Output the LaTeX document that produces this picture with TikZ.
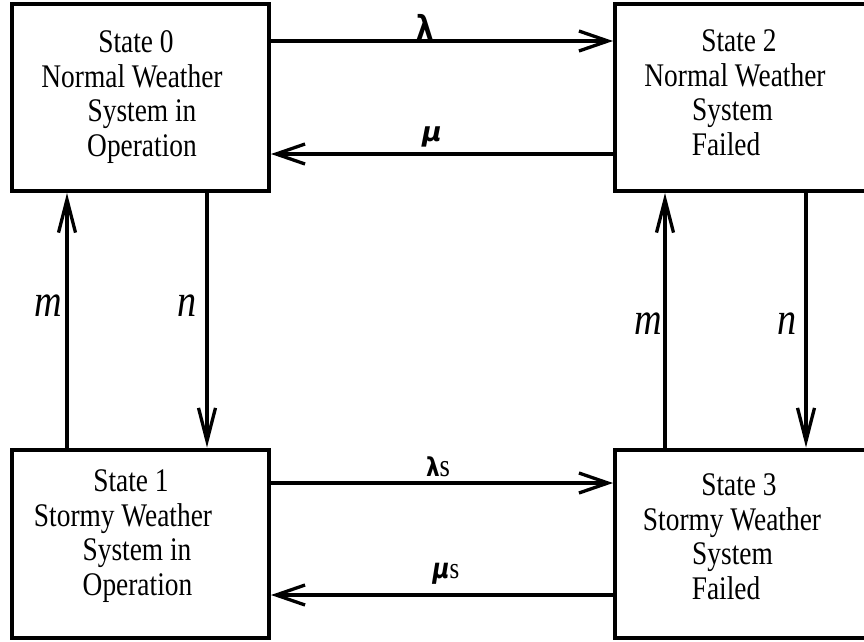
\documentclass[tikz,border=0pt]{standalone}
\usepackage{fontspec}
\setmainfont{Liberation Serif}[FakeStretch=0.83]
\newfontfamily\grk{DejaVu Sans}[FakeStretch=0.83]
\newfontfamily\grkw{DejaVu Sans}
\usetikzlibrary{arrows.meta}
\newcommand\padL[1]{\hbox to #1pt{}}
\newcommand\padR[1]{\hbox to #1pt{}}
\tikzset{
  statebox/.style={draw, line width=4pt, rectangle, inner sep=0pt, minimum width=257pt},
  statetext/.style={anchor=north, inner sep=0pt, align=center, font=\fontsize{33}{34.5}\selectfont},
  harr/.style={line width=3.3pt, -{Straight Barb[length=29pt,width=20pt]}},
  varr/.style={line width=3.3pt, -{Straight Barb[length=33pt,width=17pt]}},
  rate/.style={anchor=base, inner sep=0pt, font=\fontsize{46}{48}\selectfont\itshape},
  grklbl/.style={anchor=base, inner sep=0pt}
}
\begin{document}
\begin{tikzpicture}[x=1pt,y=-1pt]
\useasboundingbox (0,0) rectangle (864,641);
\clip (0,0) rectangle (864,641);
\fill[white] (0,0) rectangle (864,641);

% boxes
\node[statebox, minimum height=187pt] (s0) at (140.5,97.5) {};
\node[statebox, minimum height=187pt] (s2) at (743.5,97.5) {};
\node[statebox, minimum height=188.5pt] (s1) at (140.5,543.75) {};
\node[statebox, minimum height=188.5pt] (s3) at (743.5,543.75) {};

% texts
\node[statetext] (t0) at (140,30.7) {State 0\padR{8}\\Normal Weather\padR{16}\\\padL{4}System in\\\padL{4}Operation};
\node[statetext] (t2) at (736,29.7) {\padL{6}State 2\\Normal Weather\padR{2}\\System\padR{7}\\Failed\padR{20}};
\node[statetext] (t1) at (140,469.7) {State 1\padR{18}\\Stormy Weather\padR{34}\\System in\padR{6}\\Operation\padR{5}};
\node[statetext] (t3) at (736,473.7) {\padL{6}State 3\\Stormy Weather\padR{8}\\System\padR{7}\\Failed\padR{20}};

% horizontal transitions
\draw[harr] (s0.east |- 0,41) -- (s2.west |- 0,41);
\draw[harr] (s2.west |- 0,154) -- (s0.east |- 0,154);
\draw[harr] (s1.east |- 0,483) -- (s3.west |- 0,483);
\draw[harr] (s3.west |- 0,595) -- (s1.east |- 0,595);

% vertical transitions
\draw[varr] (s1.north -| 67,0) -- (s0.south -| 67,0);
\draw[varr] (s0.south -| 207,0) -- (s1.north -| 207,0);
\draw[varr] (s3.north -| 665,0) -- (s2.south -| 665,0);
\draw[varr] (s2.south -| 806,0) -- (s3.north -| 806,0);

% labels
\node[grklbl, font=\grk\fontsize{33}{36}\selectfont\bfseries] (lam) at (425.5,39) {λ};
\node[grklbl, font=\grkw\fontsize{27}{30}\selectfont\bfseries\itshape] (mu) at (432,141) {μ};
\node[grklbl, font=\fontsize{32}{34}\selectfont] (lams) at (438,476) {{\grk\fontsize{26}{28}\selectfont\bfseries λ}s};
\node[grklbl, font=\fontsize{30}{32}\selectfont] (mus) at (446,578) {{\grk\fontsize{28}{30}\selectfont\bfseries\itshape μ}s};

\node[rate] (m0) at (48.5,316) {m};
\node[rate] (n0) at (187.5,316) {n};
\node[rate] (m1) at (648.5,334) {m};
\node[rate] (n1) at (787.5,334) {n};
\end{tikzpicture}
\end{document}
